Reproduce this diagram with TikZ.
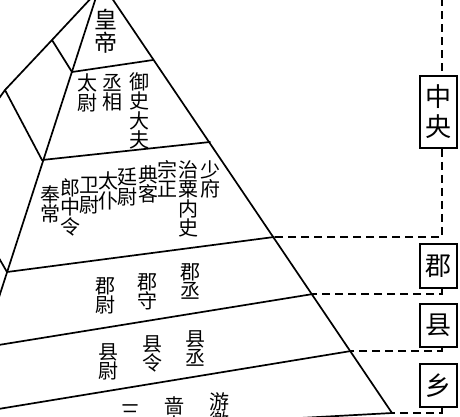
\documentclass[tikz,border=0pt]{standalone}
\usepackage{fontspec}
\newfontfamily\cjk{Noto Sans CJK SC}
\begin{document}
\begin{tikzpicture}[x=1pt,y=-1pt,
  edge/.style={line width=1.7pt, line join=round, line cap=round},
  dline/.style={line width=1.7pt, dash pattern=on 8pt off 5pt},
  tx/.style={font=\cjk\fontsize{20}{19.5}\selectfont, align=center, inner sep=0pt, anchor=north},
  bigtx/.style={font=\cjk\fontsize{23}{23}\selectfont, align=center, inner sep=0pt, anchor=north},
  lvl/.style={draw, line width=1.7pt, fill=white, font=\cjk\fontsize{26}{30}\selectfont, align=center, inner sep=0pt, minimum width=37pt}
]
\useasboundingbox (0,0) rectangle (460,416);
\clip (0,0) rectangle (460,416);
% pyramid points
\coordinate (A) at (101,-18);
\coordinate (B) at (392,413);
\coordinate (fl1) at (72,72);
\coordinate (fl2) at (42,160);
\coordinate (fl3) at (7,272);
\coordinate (flE) at (-44,430);
\coordinate (r1) at (153,60);
\coordinate (r2) at (210,142);
\coordinate (r3) at (274,237);
\coordinate (r4) at (313,294);
\coordinate (r5) at (351,351);
\coordinate (l4) at (-20,348);
\coordinate (l5) at (-20,412);
\coordinate (b6) at (300,418);
\coordinate (lo0) at (94,-5);
\coordinate (lo1) at (52,40);
\coordinate (lo2) at (5,90);
\coordinate (lo3) at (-5,104);
\coordinate (ll3) at (-8,246);
% edges
\draw[edge] (A) -- (B);
\draw[edge] (A) -- (flE);
\draw[edge] (fl1) -- (r1);
\draw[edge] (fl2) -- (r2);
\draw[edge] (fl3) -- (r3);
\draw[edge] (l4) -- (r4);
\draw[edge] (l5) -- (r5);
\draw[edge] (B) -- (b6);
\draw[edge] (lo0) -- (lo1) -- (lo2) -- (lo3);
\draw[edge] (lo1) -- (fl1);
\draw[edge] (lo2) -- (fl2);
\draw[edge] (ll3) -- (fl3);
% texts
\node[bigtx] (huangdi) at (106,9) {皇\\帝};
\node[tx] (taiwei) at (87.5,74) {太\\尉};
\node[tx] (chengxiang) at (112.5,74) {丞\\相};
\node[tx] (yushi) at (139,72) {御\\史\\大\\夫};
\node[tx] (fengchang) at (50,185) {奉\\常};
\node[tx] (langzhong) at (70,178) {郎\\中\\令};
\node[tx] (weiwei) at (89,177) {卫\\尉};
\node[tx] (taipu) at (108,172) {太\\仆};
\node[tx] (tingwei) at (127.5,168) {廷\\尉};
\node[tx] (dianke) at (148,165) {典\\客};
\node[tx] (zongzheng) at (167,160) {宗\\正};
\node[tx] (zhisu) at (188,160) {治\\粟\\内\\史};
\node[tx] (shaofu) at (210,160) {少\\府};
\node[tx] (junwei) at (105,277) {郡\\尉};
\node[tx] (junshou) at (147,273) {郡\\守};
\node[tx] (juncheng) at (190,263) {郡\\丞};
\node[tx] (xianwei) at (108,343) {县\\尉};
\node[tx] (xianling) at (152,335) {县\\令};
\node[tx] (xiancheng) at (195,330) {县\\丞};
\node[tx] (sanlao) at (130,404) {三\\老};
\node[tx] (sefu) at (174,396) {啬\\夫};
\node[tx] (youjiao) at (219,392) {游\\徼};
% level boxes
\node[lvl, minimum height=72pt] (zy) at (438.5,112) {中\\央};
\node[lvl, minimum height=44pt] (jun) at (438.5,266) {郡};
\node[lvl, minimum height=43pt] (xian) at (438.5,325.5) {县};
\node[lvl, minimum height=43pt] (xiang) at (438.5,385.5) {乡};
% dashed connectors
\coordinate (vtop) at (442,-2);
\draw[dline] (vtop) -- (vtop |- zy.north);
\draw[dline] (zy.south -| vtop) |- (r3);
\draw[dline] (jun.south -| vtop) |- (r4);
\draw[dline] (xian.south -| vtop) |- (r5);
\draw[dline] (xiang.south -| vtop) |- (B);
\end{tikzpicture}
\end{document}
